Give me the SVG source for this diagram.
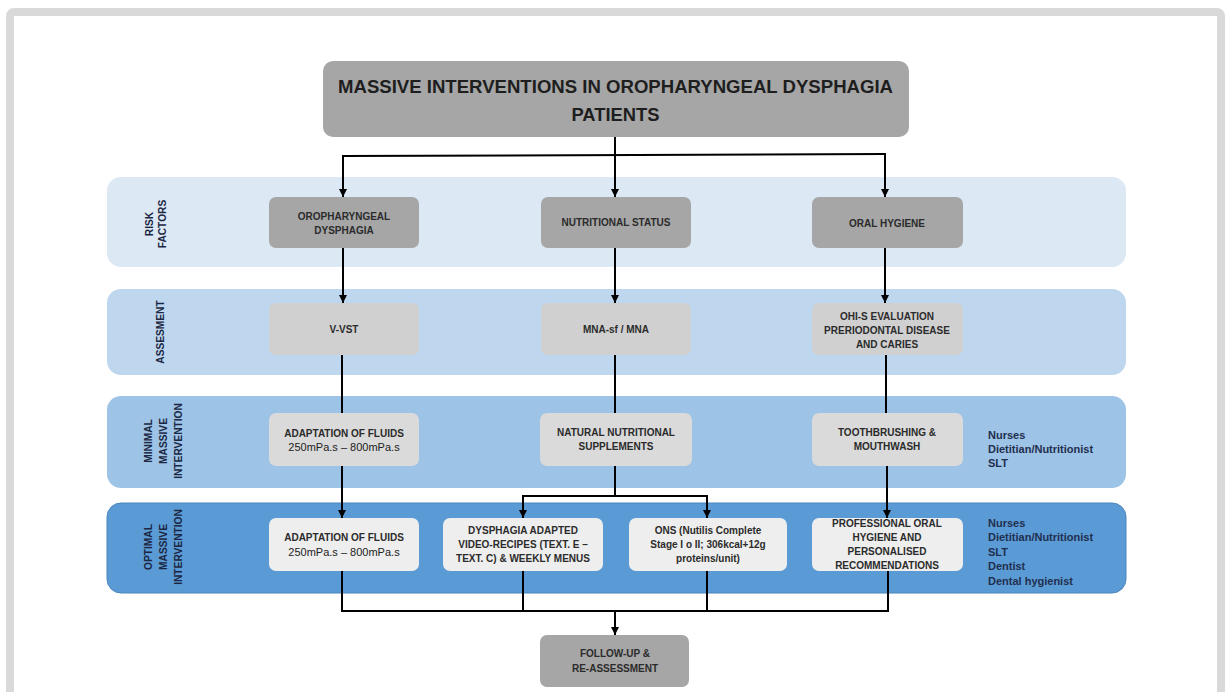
<svg xmlns="http://www.w3.org/2000/svg" width="1225" height="692" viewBox="0 0 1225 692">
  <defs>
    <marker id="arrow" viewBox="0 0 10 10" refX="10" refY="5" markerWidth="8" markerHeight="8" markerUnits="userSpaceOnUse" orient="auto">
      <path d="M0,0 L10,5 L0,10 Z" fill="#000"/>
    </marker>
  </defs>
  <style>
    .band-rf { fill: #dde8f5; }
    .band-as { fill: #bed6ee; }
    .band-mi { fill: #9dc3e6; }
    .band-op { fill: #5b9bd5; stroke: #4a84bd; stroke-width: 1; }
    .dark { fill: #a6a6a6; }
    .mid { fill: #d0d0d0; }
    .light { fill: #dadada; }
    .pale { fill: #eeeeee; }
    .t { font-family: "Liberation Sans", Arial, sans-serif; font-weight: bold; font-size: 10px; fill: #2b2b2b; text-anchor: middle; }
    .visc { font-weight: normal; font-size: 11px; fill: #222222; }
    .title { font-family: "Liberation Sans", Arial, sans-serif; font-weight: bold; font-size: 19px; fill: #1e1e1e; text-anchor: middle; }
    .lbl { font-family: "Liberation Sans", Arial, sans-serif; font-weight: bold; font-size: 10.2px; fill: #1b2742; text-anchor: middle; }
    .staff { font-family: "Liberation Sans", Arial, sans-serif; font-weight: bold; font-size: 11px; fill: #1f2f4f; }
    .conn line, .conn polyline { stroke: #000; stroke-width: 2; fill: none; }
  </style>

  <!-- page frame -->
  <rect x="0" y="0" width="1225" height="692" fill="#ffffff"/>
  <rect x="10" y="12" width="1211" height="700" rx="4" fill="#ffffff" stroke="#d9d9d9" stroke-width="8"/>

  <!-- swimlane bands -->
  <g id="band-risk-factors">
    <rect class="band-rf" x="107" y="177" width="1019" height="90" rx="14"/>
    <text class="lbl" transform="translate(153,224) rotate(-90)">RISK</text>
    <text class="lbl" transform="translate(166,224) rotate(-90)">FACTORS</text>
  </g>
  <g id="band-assesment">
    <rect class="band-as" x="107" y="289" width="1019" height="86" rx="14"/>
    <text class="lbl" transform="translate(164,332) rotate(-90)">ASSESMENT</text>
  </g>
  <g id="band-minimal">
    <rect class="band-mi" x="107" y="396" width="1019" height="92" rx="14"/>
    <text class="lbl" transform="translate(152,441) rotate(-90)">MINIMAL</text>
    <text class="lbl" transform="translate(167,441) rotate(-90)">MASSIVE</text>
    <text class="lbl" transform="translate(182,441) rotate(-90)">INTERVENTION</text>
    <text class="staff" x="988" y="439">Nurses</text>
    <text class="staff" x="988" y="453">Dietitian/Nutritionist</text>
    <text class="staff" x="988" y="467">SLT</text>
  </g>
  <g id="band-optimal">
    <rect class="band-op" x="107" y="503" width="1019" height="90" rx="14"/>
    <text class="lbl" transform="translate(152,547) rotate(-90)">OPTIMAL</text>
    <text class="lbl" transform="translate(167,547) rotate(-90)">MASSIVE</text>
    <text class="lbl" transform="translate(182,547) rotate(-90)">INTERVENTION</text>
    <text class="staff" x="988" y="527">Nurses</text>
    <text class="staff" x="988" y="541">Dietitian/Nutritionist</text>
    <text class="staff" x="988" y="556">SLT</text>
    <text class="staff" x="988" y="570">Dentist</text>
    <text class="staff" x="988" y="585">Dental hygienist</text>
  </g>

  <!-- connectors -->
  <g id="connectors" class="conn">
    <line x1="615" y1="137" x2="615" y2="155"/>
    <line x1="342" y1="156" x2="886" y2="154"/>
    <line x1="343" y1="156" x2="343" y2="197" marker-end="url(#arrow)"/>
    <line x1="615" y1="155" x2="615" y2="197" marker-end="url(#arrow)"/>
    <line x1="885" y1="154" x2="885" y2="197" marker-end="url(#arrow)"/>

    <line x1="343" y1="248" x2="343" y2="303" marker-end="url(#arrow)"/>
    <line x1="615" y1="248" x2="615" y2="303" marker-end="url(#arrow)"/>
    <line x1="885" y1="248" x2="885" y2="303" marker-end="url(#arrow)"/>

    <line x1="342" y1="355" x2="342" y2="413"/>
    <line x1="615" y1="355" x2="615" y2="413"/>
    <line x1="886" y1="355" x2="886" y2="413"/>

    <line x1="342" y1="466" x2="342" y2="518" marker-end="url(#arrow)"/>
    <line x1="887" y1="466" x2="887" y2="518" marker-end="url(#arrow)"/>
    <line x1="615" y1="466" x2="615" y2="496"/>
    <polyline points="523,518 523,496 707,496 707,518"/>
    <line x1="523" y1="496" x2="523" y2="518" marker-end="url(#arrow)"/>
    <line x1="707" y1="496" x2="707" y2="518" marker-end="url(#arrow)"/>

    <line x1="523" y1="571" x2="523" y2="611"/>
    <line x1="707" y1="571" x2="707" y2="611"/>
    <polyline points="342,571 342,611 888,611 888,571"/>
    <line x1="615" y1="611" x2="615" y2="635" marker-end="url(#arrow)"/>
  </g>

  <!-- title -->
  <g id="title">
    <rect class="dark" x="323" y="61" width="586" height="76" rx="10"/>
    <text class="title" x="615.5" y="93" textLength="555" lengthAdjust="spacingAndGlyphs">MASSIVE INTERVENTIONS IN OROPHARYNGEAL DYSPHAGIA</text>
    <text class="title" x="615.5" y="121" textLength="88" lengthAdjust="spacingAndGlyphs">PATIENTS</text>
  </g>

  <!-- risk factors -->
  <g id="oropharyngeal-dysphagia">
    <rect class="dark" x="269" y="197" width="150" height="51" rx="7"/>
    <text class="t" x="344" y="220">OROPHARYNGEAL</text>
    <text class="t" x="344" y="234">DYSPHAGIA</text>
  </g>
  <g id="nutritional-status">
    <rect class="dark" x="541" y="197" width="150" height="51" rx="7"/>
    <text class="t" x="616" y="226">NUTRITIONAL STATUS</text>
  </g>
  <g id="oral-hygiene">
    <rect class="dark" x="812" y="197" width="151" height="51" rx="7"/>
    <text class="t" x="887" y="227">ORAL HYGIENE</text>
  </g>

  <!-- assesment -->
  <g id="v-vst">
    <rect class="mid" x="269" y="303" width="150" height="52" rx="7"/>
    <text class="t" x="344" y="333">V-VST</text>
  </g>
  <g id="mna">
    <rect class="mid" x="541" y="303" width="150" height="52" rx="7"/>
    <text class="t" x="616" y="333">MNA-sf / MNA</text>
  </g>
  <g id="ohi-s">
    <rect class="mid" x="812" y="303" width="151" height="52" rx="7"/>
    <text class="t" x="887" y="320">OHI-S EVALUATION</text>
    <text class="t" x="887" y="334">PRERIODONTAL DISEASE</text>
    <text class="t" x="887" y="348">AND CARIES</text>
  </g>

  <!-- minimal massive intervention -->
  <g id="min-fluids">
    <rect class="light" x="269" y="413" width="150" height="53" rx="7"/>
    <text class="t" x="344" y="437">ADAPTATION OF FLUIDS</text>
    <text class="t visc" x="344" y="451">250mPa.s – 800mPa.s</text>
  </g>
  <g id="min-supplements">
    <rect class="light" x="540" y="413" width="152" height="53" rx="7"/>
    <text class="t" x="616" y="436">NATURAL NUTRITIONAL</text>
    <text class="t" x="616" y="450">SUPPLEMENTS</text>
  </g>
  <g id="min-toothbrushing">
    <rect class="light" x="812" y="413" width="151" height="53" rx="7"/>
    <text class="t" x="887" y="436">TOOTHBRUSHING &amp;</text>
    <text class="t" x="887" y="450">MOUTHWASH</text>
  </g>

  <!-- optimal massive intervention -->
  <g id="opt-fluids">
    <rect class="pale" x="269" y="518" width="150" height="53" rx="7"/>
    <text class="t" x="344" y="541">ADAPTATION OF FLUIDS</text>
    <text class="t visc" x="344" y="556">250mPa.s – 800mPa.s</text>
  </g>
  <g id="opt-recipes">
    <rect class="pale" x="443" y="518" width="160" height="53" rx="7"/>
    <text class="t" x="523" y="534">DYSPHAGIA ADAPTED</text>
    <text class="t" x="523" y="548">VIDEO-RECIPES (TEXT. E –</text>
    <text class="t" x="523" y="562">TEXT. C) &amp; WEEKLY MENUS</text>
  </g>
  <g id="opt-ons">
    <rect class="pale" x="629" y="518" width="158" height="53" rx="7"/>
    <text class="t" x="708" y="534">ONS (Nutilis Complete</text>
    <text class="t" x="708" y="548">Stage I o II; 306kcal+12g</text>
    <text class="t" x="708" y="562">proteins/unit)</text>
  </g>
  <g id="opt-oral">
    <rect class="pale" x="812" y="518" width="151" height="53" rx="7"/>
    <text class="t" x="887" y="527">PROFESSIONAL ORAL</text>
    <text class="t" x="887" y="541">HYGIENE AND</text>
    <text class="t" x="887" y="555">PERSONALISED</text>
    <text class="t" x="887" y="569">RECOMMENDATIONS</text>
  </g>

  <!-- outcome -->
  <g id="follow-up">
    <rect class="dark" x="540" y="635" width="149" height="52" rx="7"/>
    <text class="t" x="615" y="657">FOLLOW-UP &amp;</text>
    <text class="t" x="615" y="672">RE-ASSESSMENT</text>
  </g>
</svg>
